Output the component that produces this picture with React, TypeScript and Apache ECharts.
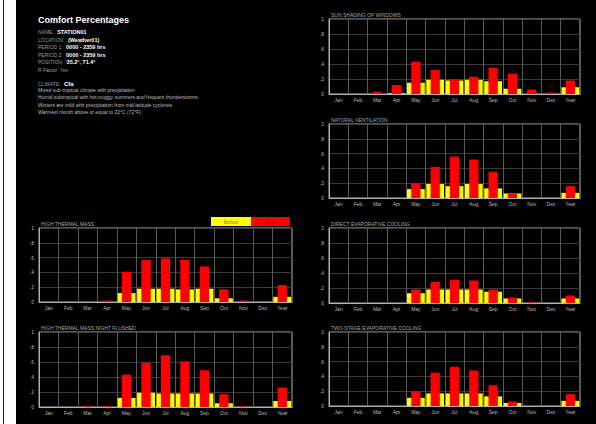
import React, { useEffect, useRef } from "react";
import * as echarts from "echarts";

const months = ["Jan", "Feb", "Mar", "Apr", "May", "Jun", "Jul", "Aug", "Sep", "Oct", "Nov", "Dec", "Year"];
const yTicks = [0, 20, 40, 60, 80, 100];
const yTickLabels = ["0", ".2", ".4", ".6", ".8", "1"];

const sunShadingBefore = [0, 0, 0, 1, 15, 19, 18, 19, 17, 7, 0, 0, 9];
const sunShadingAfter = [0, 0, 3, 12, 43, 32, 20, 23, 35, 27, 6, 2, 18];
const natVentBefore = [0, 0, 0, 0, 12, 19, 16, 19, 13, 6, 0, 0, 7];
const natVentAfter = [0, 0, 0, 0, 20, 42, 56, 52, 35, 6, 0, 0, 16];
const directEvapBefore = [0, 0, 0, 0, 13, 18, 18, 18, 15, 6, 0, 0, 6];
const directEvapAfter = [0, 0, 0, 0, 18, 28, 31, 30, 18, 7, 1, 0, 10];
const twoStageBefore = [0, 0, 0, 0, 11, 17, 17, 17, 13, 4, 0, 0, 7];
const twoStageAfter = [0, 0, 1, 1, 20, 45, 53, 48, 28, 6, 1, 0, 16];
const thermalMassBefore = [0, 0, 0, 0, 12, 18, 18, 17, 18, 5, 0, 0, 7];
const thermalMassAfter = [0, 0, 1, 2, 41, 57, 59, 57, 48, 17, 2, 0, 23];
const nightFlushBefore = [0, 0, 0, 0, 12, 19, 18, 18, 18, 5, 0, 0, 8];
const nightFlushAfter = [0, 0, 1, 1, 43, 59, 69, 61, 49, 17, 1, 0, 26];

const legendLabels = ["Before", "After"];

const headerTitle = "Comfort Percentages";
const headerLines: [string, string][] = [
  ["NAME:", "STATION01"],
  ["LOCATION:", "(Weather01)"],
  ["PERIOD 1:", "0000 - 2359 hrs"],
  ["PERIOD 2:", "0000 - 2359 hrs"],
  ["POSITION:", "35.2°, 71.4°"],
  ["R Factor: Yes", ""],
];
const climateCode = "Cfa";
const climateLines = [
  "Mixed sub-tropical climate with precipitation",
  "Humid subtropical with hot muggy summers and frequent thunderstorms",
  "Winters are mild with precipitation from mid-latitude cyclones",
  "Warmest month above or equal to 22°C (72°F)",
];

const panels = [
  { title: "SUN SHADING OF WINDOWS", before: sunShadingBefore, after: sunShadingAfter, left: 329, top: 19, width: 251, height: 75 },
  { title: "NATURAL VENTILATION", before: natVentBefore, after: natVentAfter, left: 329, top: 124, width: 251, height: 74 },
  { title: "DIRECT EVAPORATIVE COOLING", before: directEvapBefore, after: directEvapAfter, left: 329, top: 228, width: 251, height: 75 },
  { title: "TWO-STAGE EVAPORATIVE COOLING", before: twoStageBefore, after: twoStageAfter, left: 329, top: 332, width: 251, height: 74 },
  { title: "HIGH THERMAL MASS", before: thermalMassBefore, after: thermalMassAfter, left: 39, top: 228, width: 253, height: 74 },
  { title: "HIGH THERMAL MASS NIGHT FLUSHED", before: nightFlushBefore, after: nightFlushAfter, left: 39, top: 332, width: 253, height: 75 },
];

const YELLOW = "#ffff00";
const RED = "#ff0000";
const FONT = "Liberation Sans, Arial, sans-serif";

export default function App() {
  const ref = useRef<HTMLDivElement>(null);
  useEffect(() => {
    document.documentElement.style.background = "#000000";
    document.body.style.background = "#000000";
    document.body.style.margin = "0";
    document.body.style.overflow = "hidden";
    if (!ref.current) return;
    const chart = echarts.init(ref.current, null, { renderer: "svg" });
    const grid: any[] = [];
    const xAxis: any[] = [];
    const yAxis: any[] = [];
    const series: any[] = [];
    const graphic: any[] = [];

    // left white strip with thin dark line
    graphic.push({ type: "rect", shape: { x: 0, y: 0, width: 16, height: 424 }, style: { fill: "#ffffff" } });
    graphic.push({ type: "rect", shape: { x: 3, y: 0, width: 1, height: 424 }, style: { fill: "#222222" } });

    panels.forEach((p, i) => {
      grid.push({
        left: p.left,
        top: p.top,
        width: p.width,
        height: p.height,
        show: true,
        borderColor: "#b0b0b0",
        borderWidth: 1,
        backgroundColor: "transparent",
      });
      xAxis.push({
        type: "category",
        gridIndex: i,
        data: months,
        axisLine: { show: true, lineStyle: { color: "#b0b0b0" } },
        axisTick: { show: false },
        axisLabel: { color: "#bbbbbb", fontSize: 5, fontFamily: FONT, margin: 3, interval: 0 },
        splitLine: { show: true, lineStyle: { color: "#5a5a5a", width: 1 } },
      });
      xAxis.push({
        type: "category",
        gridIndex: i,
        data: months,
        show: false,
      });
      yAxis.push({
        type: "value",
        gridIndex: i,
        min: 0,
        max: 100,
        interval: 20,
        axisLine: { show: true, lineStyle: { color: "#b0b0b0" } },
        axisTick: { show: false },
        axisLabel: {
          color: "#bbbbbb",
          fontSize: 5,
          fontFamily: FONT,
          margin: 5,
          formatter: (v: number) => yTickLabels[yTicks.indexOf(v)] ?? "",
        },
        splitLine: { show: true, lineStyle: { color: "#3a3a3a", width: 1 } },
      });
      series.push({
        type: "bar",
        name: legendLabels[0],
        xAxisIndex: i * 2,
        yAxisIndex: i,
        data: p.before,
        barWidth: "92%",
        itemStyle: { color: YELLOW },
      });
      series.push({
        type: "bar",
        name: legendLabels[1],
        xAxisIndex: i * 2 + 1,
        yAxisIndex: i,
        data: p.after,
        barWidth: "48%",
        itemStyle: { color: RED },
      });
      graphic.push({
        type: "text",
        left: p.left + 2,
        top: p.top - 7,
        style: { text: p.title, fill: "#a8a8a8", fontSize: 5, fontFamily: FONT },
      });
    });

    // legend boxes
    graphic.push({ type: "rect", shape: { x: 211, y: 217, width: 40, height: 9 }, style: { fill: YELLOW } });
    graphic.push({ type: "rect", shape: { x: 251, y: 217, width: 39, height: 9 }, style: { fill: RED } });
    graphic.push({
      type: "text",
      x: 231,
      y: 221.5,
      style: { text: legendLabels[0], fill: "#8a8a00", fontSize: 5, fontFamily: FONT, align: "center", verticalAlign: "middle" },
    });
    graphic.push({
      type: "text",
      x: 270.5,
      y: 221.5,
      style: { text: legendLabels[1], fill: "#a00000", fontSize: 5, fontFamily: FONT, align: "center", verticalAlign: "middle" },
    });

    // header
    const hx = 38;
    graphic.push({
      type: "text",
      x: hx,
      y: 15,
      style: { text: headerTitle, fill: "#ffffff", fontSize: 9, fontWeight: "bold", fontFamily: FONT },
    });
    headerLines.forEach((l, k) => {
      graphic.push({
        type: "text",
        x: hx,
        y: 26 + k * 7.5,
        style: {
          text: `{a|${l[0]}} {b|${l[1]}}`,
          fontFamily: FONT,
          rich: {
            a: { fill: "#9a9a9a", fontSize: 5, fontFamily: FONT },
            b: { fill: "#ffffff", fontSize: 5.5, fontWeight: "bold", fontFamily: FONT },
          },
        },
      });
    });
    graphic.push({
      type: "text",
      x: hx,
      y: 78,
      style: {
        text: `{a|CLIMATE:} {b|${climateCode}}`,
        fontFamily: FONT,
        rich: {
          a: { fill: "#9a9a9a", fontSize: 5, fontFamily: FONT },
          b: { fill: "#ffffff", fontSize: 6, fontWeight: "bold", fontFamily: FONT },
        },
      },
    });
    climateLines.forEach((t, k) => {
      graphic.push({
        type: "text",
        x: hx,
        y: 87 + k * 7.5,
        style: { text: t, fill: "#bdbdbd", fontSize: 5, fontFamily: FONT },
      });
    });

    chart.setOption({
      animation: false,
      backgroundColor: "#000000",
      grid,
      xAxis,
      yAxis,
      series,
      graphic,
    });
    return () => chart.dispose();
  }, []);

  return (
    <div style={{ position: "fixed", left: 0, top: 0, width: 596, height: 424, background: "#000000", overflow: "hidden" }}>
      <div ref={ref} style={{ position: "absolute", left: 0, top: 0, width: 596, height: 424 }} />
    </div>
  );
}
